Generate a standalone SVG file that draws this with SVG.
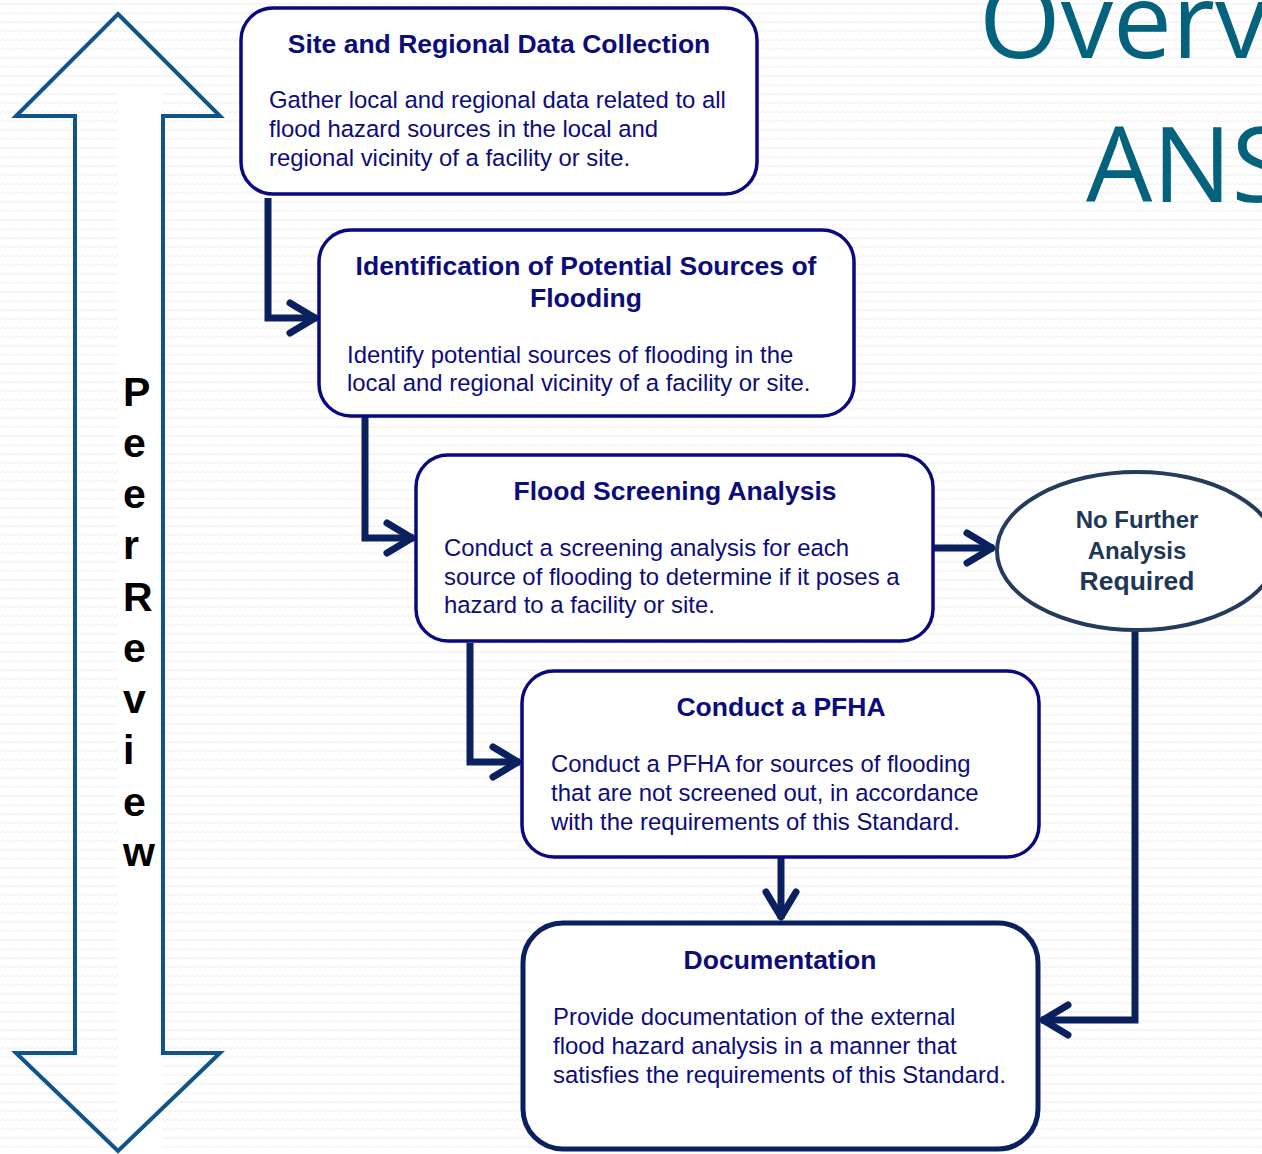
<svg xmlns="http://www.w3.org/2000/svg" width="1262" height="1154" viewBox="0 0 1262 1154">
<style>
.box{fill:#ffffff;stroke:#0a0a80;stroke-width:3.5}
.t{font-family:"Liberation Sans",Arial,sans-serif;fill:#0c0c7c}
.h{font-size:26.5px;font-weight:bold;text-anchor:middle}
.b{font-size:23.9px}
.conn{fill:none;stroke:#0b215f;stroke-width:7;marker-end:url(#chev)}
.pr{font-family:"Liberation Sans",Arial,sans-serif;font-size:41px;font-weight:bold;fill:#000}
.nf{font-family:"Liberation Sans",Arial,sans-serif;font-weight:bold;fill:#1f3757;text-anchor:middle}
</style>
<defs>
<pattern id="bg" width="10" height="9" patternUnits="userSpaceOnUse">
<path d="M0,5 L2.5,3 L5,5 L7.5,3 L10,5" fill="none" stroke="#ececec" stroke-width="1"/>
</pattern>
<marker id="chev" markerUnits="userSpaceOnUse" viewBox="-34 -22 40 44" refX="0" refY="0" markerWidth="40" markerHeight="44" orient="auto" overflow="visible">
<path d="M-27,-15 L-2,0 L-27,15" fill="none" stroke="#0b215f" stroke-width="7" stroke-linecap="round" stroke-linejoin="round"/>
</marker>
</defs>
<rect width="1262" height="1154" fill="#ffffff"/>
<rect width="1262" height="1154" fill="url(#bg)"/>

<g id="title">
<text x="979" y="58" font-family="'Open Sans',sans-serif" font-size="105" fill="#05627c">Overv</text>
<text x="1086" y="202" font-family="'Open Sans',sans-serif" font-size="105" fill="#05627c">ANS</text>
</g>

<g id="peer-review">
<rect x="118" y="86" width="44" height="1064" fill="#ffffff"/>
<polygon points="118,14 220,116 163,116 163,1053 220,1053 118,1151 16,1053 75,1053 75,116 16,116" fill="none" stroke="#10548f" stroke-width="4"/>
<text class="pr" x="123" y="406">P</text>
<text class="pr" x="123" y="457">e</text>
<text class="pr" x="123" y="508">e</text>
<text class="pr" x="123" y="559">r</text>
<text class="pr" x="123" y="611">R</text>
<text class="pr" x="123" y="662">e</text>
<text class="pr" x="123" y="713">v</text>
<text class="pr" x="123" y="764">i</text>
<text class="pr" x="123" y="816">e</text>
<text class="pr" x="123" y="866">w</text>
</g>

<g id="connectors">
<path class="conn" d="M268,198 V318 H317"/>
<path class="conn" d="M365,417 V538 H414"/>
<path class="conn" d="M470,643 V762 H520"/>
<path class="conn" d="M781,858 V919"/>
<path class="conn" d="M933,548 H994"/>
<path class="conn" d="M1135,631 V1020 H1041"/>
</g>

<g id="node-site">
<rect class="box" x="241" y="8" width="516" height="186" rx="32"/>
<text class="t h" x="499" y="53">Site and Regional Data Collection</text>
<text class="t b" x="269" y="108">Gather local and regional data related to all</text>
<text class="t b" x="269" y="137">flood hazard sources in the local and</text>
<text class="t b" x="269" y="166">regional vicinity of a facility or site.</text>
</g>

<g id="node-identification">
<rect class="box" x="319" y="230" width="535" height="186" rx="32"/>
<text class="t h" x="586" y="275">Identification of Potential Sources of</text>
<text class="t h" x="586" y="307">Flooding</text>
<text class="t b" x="347" y="363">Identify potential sources of flooding in the</text>
<text class="t b" x="347" y="391">local and regional vicinity of a facility or site.</text>
</g>

<g id="node-screening">
<rect class="box" x="416" y="455" width="517" height="186" rx="32"/>
<text class="t h" x="675" y="500">Flood Screening Analysis</text>
<text class="t b" x="444" y="556">Conduct a screening analysis for each</text>
<text class="t b" x="444" y="585">source of flooding to determine if it poses a</text>
<text class="t b" x="444" y="613">hazard to a facility or site.</text>
</g>

<g id="node-pfha">
<rect class="box" x="522" y="671" width="517" height="186" rx="32"/>
<text class="t h" x="781" y="716">Conduct a PFHA</text>
<text class="t b" x="551" y="772">Conduct a PFHA for sources of flooding</text>
<text class="t b" x="551" y="801">that are not screened out, in accordance</text>
<text class="t b" x="551" y="830">with the requirements of this Standard.</text>
</g>

<g id="node-documentation">
<rect x="523" y="923" width="515" height="226" rx="40" fill="#ffffff" stroke="#0b215f" stroke-width="5"/>
<text class="t h" x="780" y="969">Documentation</text>
<text class="t b" x="553" y="1025">Provide documentation of the external</text>
<text class="t b" x="553" y="1054">flood hazard analysis in a manner that</text>
<text class="t b" x="553" y="1083">satisfies the requirements of this Standard.</text>
</g>

<g id="node-nofurther">
<ellipse cx="1137" cy="551" rx="140" ry="79" fill="#ffffff" stroke="#253b5b" stroke-width="4"/>
<text class="nf" x="1137" y="528" font-size="24">No Further</text>
<text class="nf" x="1137" y="559" font-size="24">Analysis</text>
<text class="nf" x="1137" y="590" font-size="26.5">Required</text>
</g>
</svg>
